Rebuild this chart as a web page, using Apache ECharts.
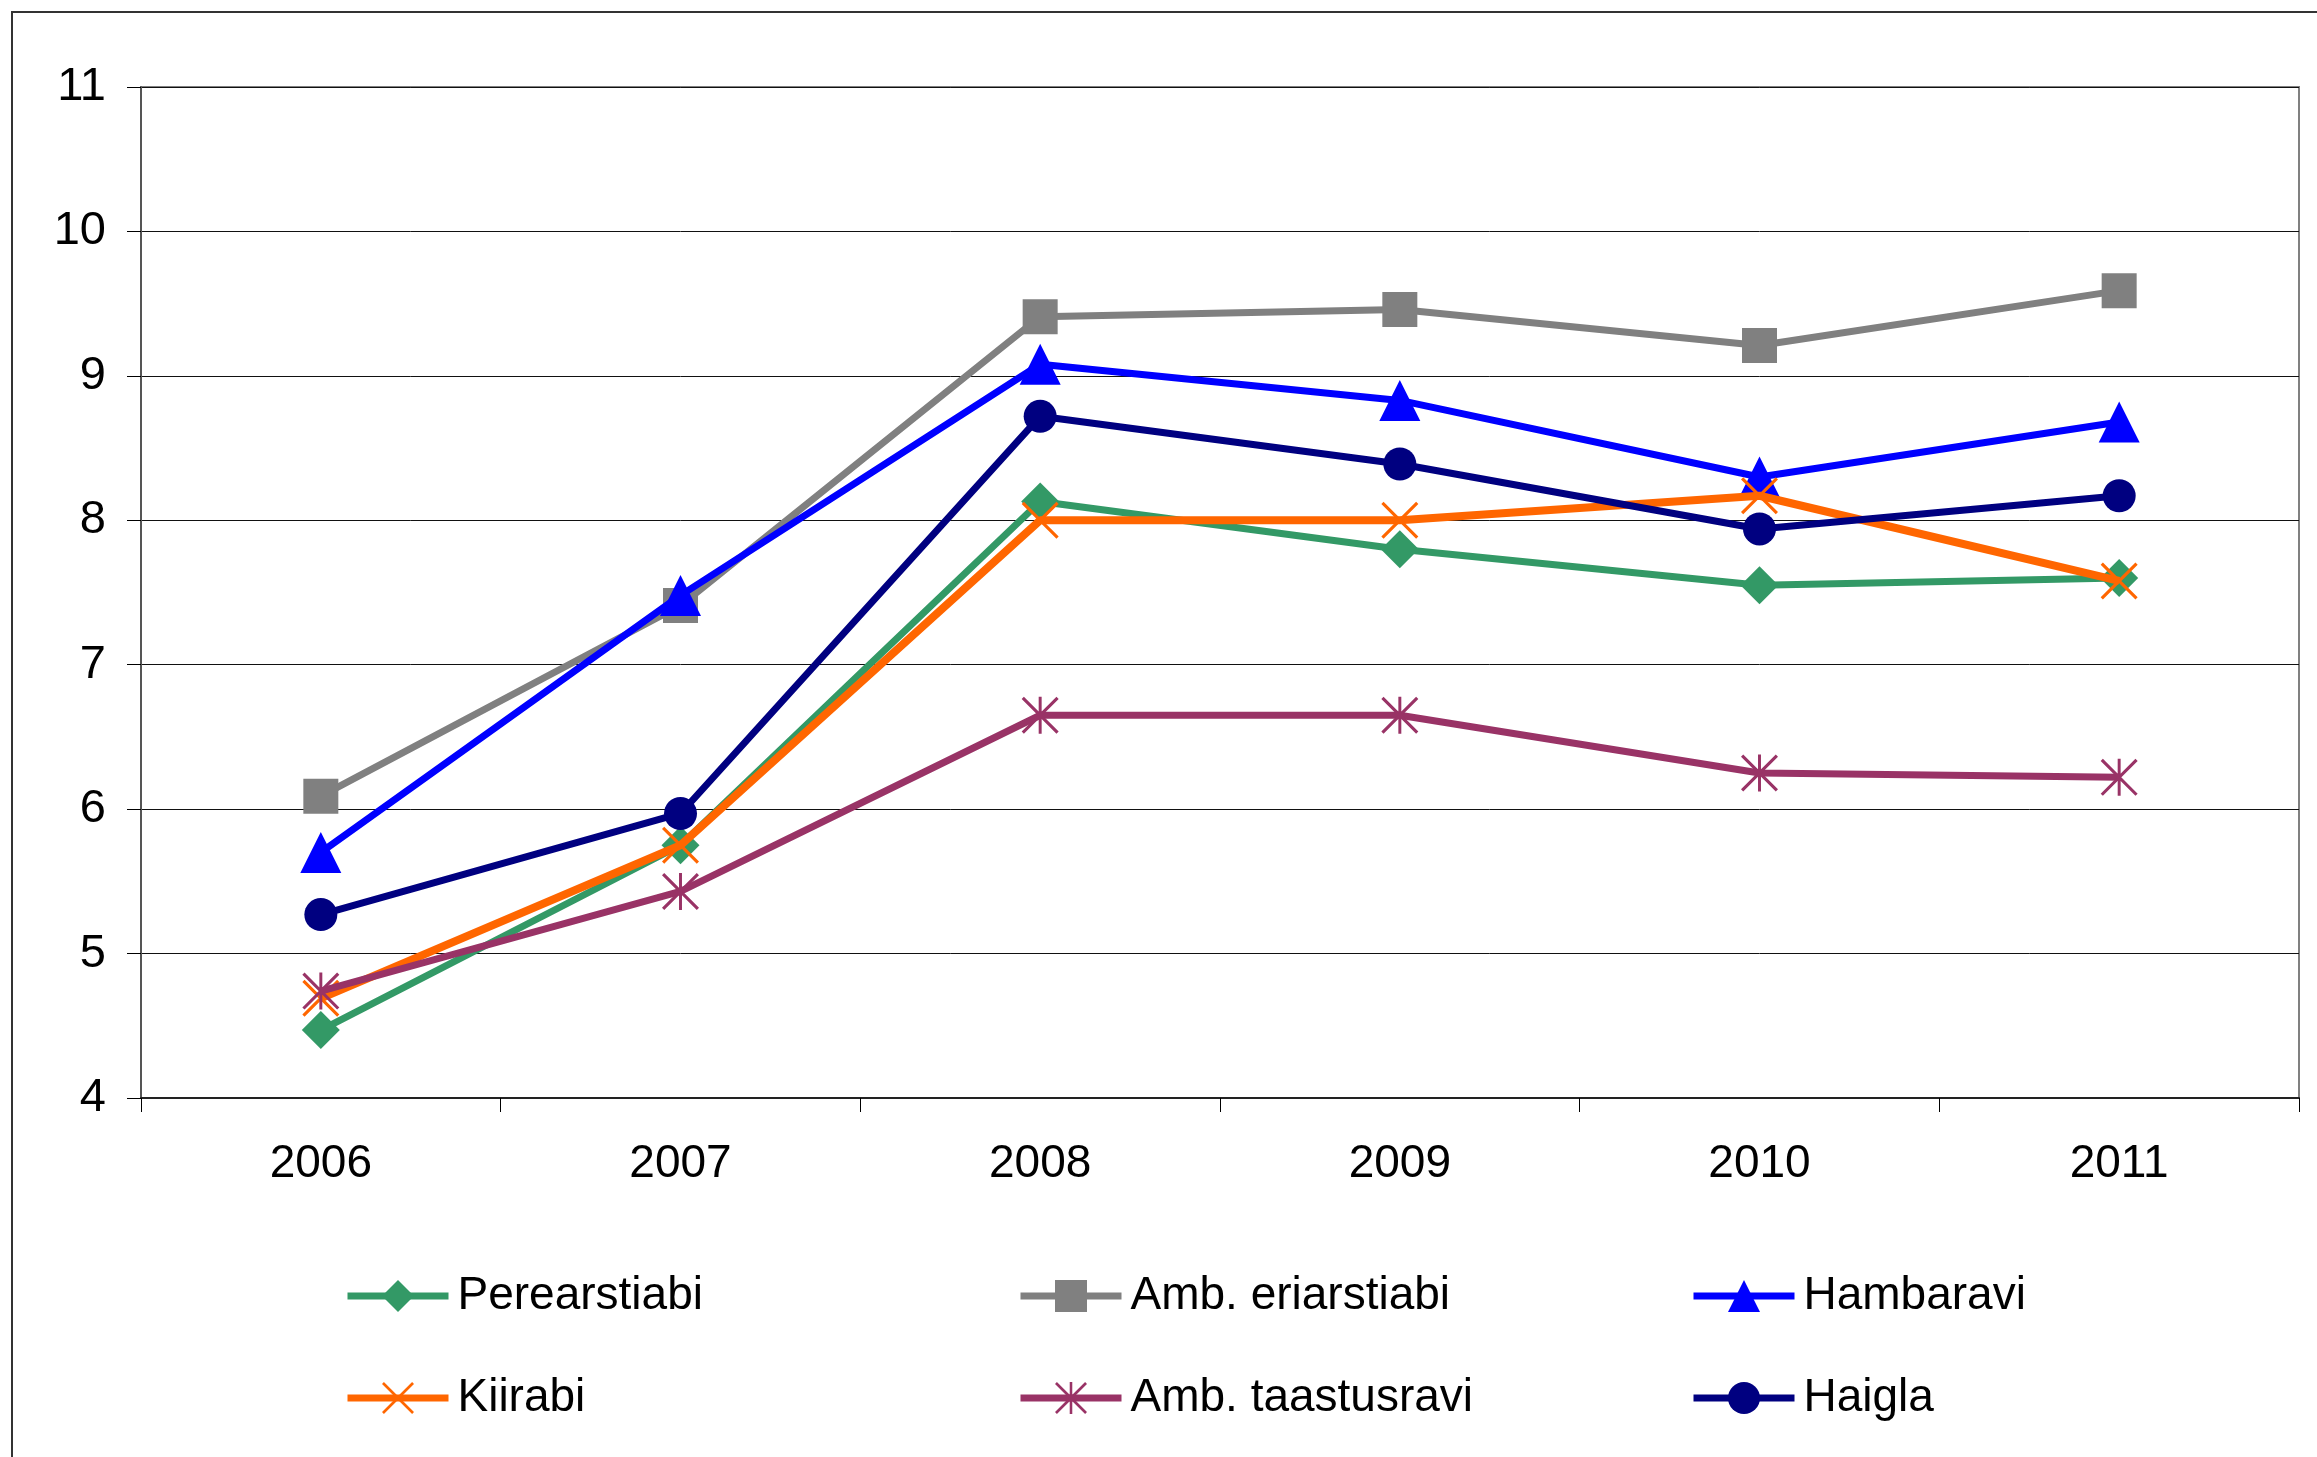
<!DOCTYPE html>
<html>
<head>
<meta charset="utf-8">
<script src="https://cdn.jsdelivr.net/npm/echarts@6/dist/echarts.min.js"></script>
<style>
html,body{margin:0;padding:0;background:#fff;}
#chart{width:2317px;height:1457px;}
</style>
</head>
<body>
<div id="chart"></div>
<script>
const years = ['2006', '2007', '2008', '2009', '2010', '2011'];
const perearstiabi = [4.47, 5.75, 8.13, 7.80, 7.55, 7.60];
const ambEriarstiabi = [6.09, 7.41, 9.41, 9.46, 9.21, 9.59];
const hambaravi = [5.70, 7.48, 9.08, 8.83, 8.30, 8.68];
const kiirabi = [4.69, 5.75, 8.00, 8.00, 8.17, 7.58];
const ambTaastusravi = [4.74, 5.43, 6.65, 6.65, 6.25, 6.22];
const haigla = [5.27, 5.97, 8.72, 8.39, 7.94, 8.17];
const seriesNames = ['Perearstiabi', 'Amb. eriarstiabi', 'Hambaravi', 'Kiirabi', 'Amb. taastusravi', 'Haigla'];

const FONT = '"Liberation Sans", Arial, sans-serif';
const xPath = 'path://M0,6 L6,0 L100,94 L94,100 Z M100,6 L6,100 L0,94 L94,0 Z';
const starPath = 'path://M0,6 L6,0 L100,94 L94,100 Z M100,6 L6,100 L0,94 L94,0 Z M46,0 L54,0 L54,100 L46,100 Z';

const styles = [
  {data: perearstiabi, color: '#339966', symbol: 'diamond', size: 38, width: 7},
  {data: ambEriarstiabi, color: '#808080', symbol: 'rect', size: 35, width: 7},
  {data: hambaravi, color: '#0000FF', symbol: 'triangle', size: 41, width: 7},
  {data: kiirabi, color: '#FF6600', symbol: xPath, size: 37, width: 8},
  {data: ambTaastusravi, color: '#993366', symbol: starPath, size: 37, width: 7},
  {data: haigla, color: '#000080', symbol: 'circle', size: 33, width: 7}
];

const series = styles.map((s, i) => ({
  name: seriesNames[i],
  type: 'line',
  data: s.data,
  symbol: s.symbol,
  symbolSize: s.size,
  showAllSymbol: true,
  lineStyle: {color: s.color, width: s.width},
  itemStyle: {color: s.color, borderWidth: 0},
  z: 2 + i,
  animation: false
}));

const legendPos = [
  [344, 1273], [1017, 1273], [1690, 1273],
  [344, 1375], [1017, 1375], [1690, 1375]
];
const legends = seriesNames.map((n, i) => ({
  data: [n],
  left: legendPos[i][0],
  top: legendPos[i][1],
  padding: 0,
  itemWidth: 101,
  itemHeight: 40,
  lineStyle: {width: 7},
  selectedMode: false,
  textStyle: {fontSize: 46, color: '#000', fontFamily: FONT, padding: [0, 0, 0, 4]}
}));

const chart = echarts.init(document.getElementById('chart'), null, {renderer: 'canvas'});
chart.setOption({
  animation: false,
  backgroundColor: '#fff',
  graphic: [{
    type: 'rect',
    shape: {x: 12, y: 12, width: 2400, height: 1600},
    style: {fill: 'none', stroke: '#333', lineWidth: 2},
    silent: true
  }],
  legend: legends,
  grid: {
    left: 141, top: 87, width: 2158, height: 1011,
    show: true, borderColor: '#808080', borderWidth: 2, backgroundColor: 'transparent'
  },
  xAxis: {
    type: 'category',
    data: years,
    boundaryGap: true,
    axisLine: {lineStyle: {color: '#222', width: 2}},
    axisTick: {show: true, length: 14, interval: 0, lineStyle: {color: '#000', width: 1}},
    axisLabel: {fontSize: 46, color: '#000', fontFamily: FONT, margin: 43, interval: 0},
    splitLine: {show: false}
  },
  yAxis: {
    type: 'value',
    min: 4, max: 11, interval: 1,
    axisLine: {show: true, lineStyle: {color: '#555', width: 2}},
    axisTick: {show: true, length: 14, lineStyle: {color: '#000', width: 1}},
    axisLabel: {fontSize: 47, color: '#000', fontFamily: FONT, margin: 35},
    splitLine: {show: true, lineStyle: {color: '#111', width: 1}}
  },
  series: series
});
</script>
</body>
</html>
